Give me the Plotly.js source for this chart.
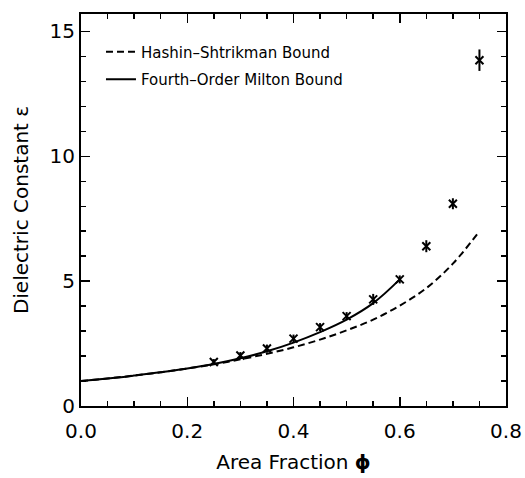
<!DOCTYPE html>
<html>
<head>
<meta charset="utf-8">
<script src="https://cdn.plot.ly/plotly-3.0.1.min.js"></script>
<style>html,body{margin:0;padding:0;background:#fff;}#plot{width:525px;height:478px;}</style>
</head>
<body>
<div id="plot"></div>
<script>
// Hashin-Shtrikman bound (dashed)
const hsPhi = [0.00,0.05,0.10,0.15,0.20,0.25,0.30,0.35,0.40,0.45,0.50,0.55,0.60,0.65,0.70,0.75];
const hsEps = [1.00,1.10,1.22,1.35,1.50,1.67,1.87,2.09,2.35,2.66,3.03,3.46,4.02,4.72,5.70,7.00];
// Fourth-order Milton bound (solid)
const mPhi = [0.00,0.05,0.10,0.15,0.20,0.25,0.30,0.35,0.40,0.45,0.50,0.55,0.60];
const mEps = [1.00,1.10,1.22,1.35,1.50,1.68,1.91,2.19,2.54,2.96,3.46,4.12,5.07];
// Measured points with error bars
const dPhi = [0.25,0.30,0.35,0.40,0.45,0.50,0.55,0.60,0.65,0.70,0.75];
const dEps = [1.76,2.02,2.30,2.70,3.16,3.60,4.27,5.07,6.40,8.10,13.85];
const dErr = [0.12,0.14,0.16,0.16,0.16,0.16,0.22,0.16,0.24,0.22,0.43];
const xTickVals = [0,0.2,0.4,0.6,0.8];
const xTickText = ['0.0','0.2','0.4','0.6','0.8'];
const yTickVals = [0,5,10,15];
const yTickText = ['0','5','10','15'];

const traces = [
  {x: hsPhi, y: hsEps, mode: 'lines', name: 'Hashin\u2013Shtrikman Bound', legendgroup: 'a',
   line: {color: '#000', width: 2, dash: '7px,4px', shape: 'spline'}},
  {x: mPhi, y: mEps, mode: 'lines', name: 'Fourth\u2013Order Milton Bound', legendgroup: 'b',
   line: {color: '#000', width: 2, shape: 'spline', smoothing: 1.1}},
  {x: dPhi, y: dEps, mode: 'markers', showlegend: false,
   marker: {symbol: 'x-thin-open', size: 8, color: '#000', line: {color: '#000', width: 2}},
   error_y: {type: 'data', array: dErr, visible: true, color: '#000', thickness: 2, width: 0}}
];

const font = {family: 'DejaVu Sans, sans-serif', color: '#000'};
const layout = {
  width: 525, height: 478,
  margin: {l: 81, r: 19, t: 14, b: 72},
  paper_bgcolor: '#fff', plot_bgcolor: '#fff',
  showlegend: true,
  legend: {x: 0.047, y: 0.945, xanchor: 'left', yanchor: 'top', bgcolor: 'rgba(0,0,0,0)',
           font: Object.assign({size: 15}, font), traceorder: 'grouped', tracegroupgap: 5},
  xaxis: {range: [0, 0.8], tickvals: xTickVals, ticktext: xTickText, ticks: 'inside', ticklen: 9, tickwidth: 1.5,
          tickcolor: '#000', showline: true, linecolor: '#000', linewidth: 2, mirror: 'ticks',
          showgrid: false, zeroline: false, tickfont: Object.assign({size: 20}, font), ticklabelstandoff: 6,
          minor: {dtick: 0.05, tick0: 0, ticks: 'inside', ticklen: 5, tickcolor: '#000', tickwidth: 1.5, showgrid: false},
          title: {text: 'Area Fraction <b>\u03d5</b>', font: Object.assign({size: 20}, font), standoff: 13}},
  yaxis: {range: [0, 15.7], tickvals: yTickVals, ticktext: yTickText, ticks: 'inside', ticklen: 9, tickwidth: 1.5,
          tickcolor: '#000', showline: true, linecolor: '#000', linewidth: 2, mirror: 'ticks',
          showgrid: false, zeroline: false, tickfont: Object.assign({size: 20}, font),
          minor: {dtick: 1, tick0: 0, ticks: 'inside', ticklen: 5, tickcolor: '#000', tickwidth: 1.5, showgrid: false},
          title: {text: 'Dielectric Constant \u03b5', font: Object.assign({size: 20}, font), standoff: 16}}
};
Plotly.newPlot('plot', traces, layout, {displayModeBar: false, staticPlot: true});
</script>
</body>
</html>
